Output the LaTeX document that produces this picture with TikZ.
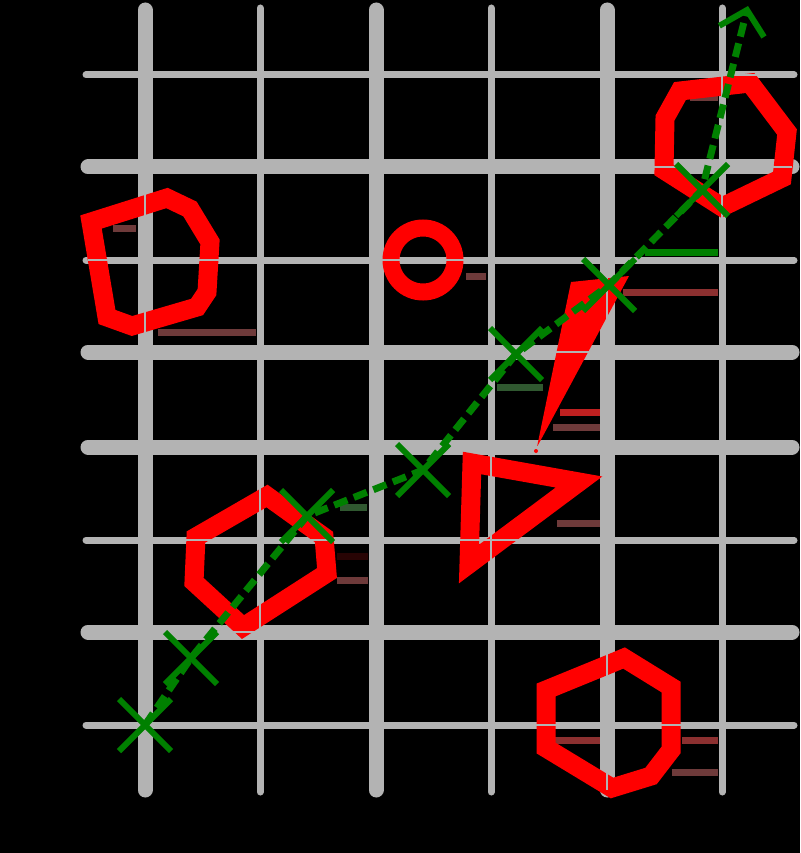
\documentclass[tikz,border=0pt]{standalone}
\usetikzlibrary{arrows.meta,shapes.misc}
\definecolor{gridgray}{RGB}{179,179,179}
\definecolor{trailgreen}{RGB}{0,128,0}
\definecolor{dimmaroon}{RGB}{110,58,58}
\definecolor{dimred}{RGB}{140,48,48}
\definecolor{hotred}{RGB}{190,32,32}
\definecolor{dimgreen}{RGB}{48,88,48}
\definecolor{darkred}{RGB}{40,4,4}
\begin{document}
\begin{tikzpicture}[x=1pt, y=-1pt,
  major/.style={draw=gridgray, line width=15pt, line cap=round},
  minor/.style={draw=gridgray, line width=7pt, line cap=round},
  seam/.style={draw=gridgray, line width=1.2pt},
  outline/.style={draw=red, line width=19pt, line join=miter},
  ghost/.style={draw=#1, line width=7pt},
  cross/.style={cross out, draw=trailgreen, line width=6pt, minimum size=46pt, inner sep=0pt},
  trail/.style={draw=trailgreen, line width=7pt, dash pattern=on 14pt off 7pt,
    -{Straight Barb[length=22pt,width=46pt,line width=6pt]}}]
  \fill[black] (0,0) rectangle (800,853);
  \useasboundingbox (0,0) rectangle (800,853);

  % Griglia
  \foreach \x in {145,376,607} \draw[major] (\x,10) -- (\x,790);
  \foreach \x in {260,491,722} \draw[minor] (\x,8) -- (\x,792);
  \foreach \y in {167,352,447,632} \draw[major] (88,\y) -- (792,\y);
  \foreach \y in {75,260,540,725} \draw[minor] (86,\y) -- (794,\y);

  % Tratti sbiaditi
  \draw[ghost=dimmaroon] (113,228) -- (136,228);
  \draw[ghost=dimmaroon] (158,332) -- (256,332);
  \draw[ghost=dimmaroon] (466,276) -- (486,276);
  \draw[ghost=dimmaroon] (690,98) -- (718,98);
  \draw[ghost=trailgreen] (645,252) -- (718,252);
  \draw[ghost=dimred] (623,292) -- (718,292);
  \draw[ghost=dimgreen] (497,387) -- (543,387);
  \draw[ghost=hotred] (560,412) -- (600,412);
  \draw[ghost=dimmaroon] (553,427) -- (600,427);
  \draw[ghost=dimmaroon] (557,523) -- (600,523);
  \draw[ghost=dimgreen] (340,507) -- (367,507);
  \draw[ghost=darkred] (337,556) -- (368,556);
  \draw[ghost=dimmaroon] (337,580) -- (368,580);
  \draw[ghost=dimred] (553,740) -- (600,740);
  \draw[ghost=dimred] (682,740) -- (718,740);
  \draw[ghost=dimmaroon] (672,772) -- (718,772);

  % Forme
  \draw[outline] (91,222) -- (167,198) -- (190,209) -- (210,242) -- (207,292)
    -- (197,307) -- (132,326) -- (107,317) -- cycle;
  \draw[outline] (680,91) -- (750,83) -- (787,132) -- (782,178) -- (722,207)
    -- (664,170) -- (665,118) -- cycle;
  \draw[outline, line width=17pt] (423,260) circle[radius=32];
  \draw[outline] (196,537) -- (267,496) -- (324,537) -- (327,573) -- (243,627)
    -- (194,582) -- cycle;
  \draw[outline] (472,463) -- (579,482) -- (469,564) -- cycle;
  \fill[red] (537,447) -- (571,282) -- (629,276) -- cycle;
  \fill[red] (536,451) circle[radius=2];
  \draw[outline] (546,690) -- (612,663) -- (624,658) -- (671,687) -- (671,750)
    -- (651,776) -- (612,788) -- (546,748) -- cycle;

  \foreach \x in {145,260,376,491,607,722} \draw[seam] (\x,10) -- (\x,790);
  \foreach \y in {75,167,260,352,447,540,632,725} \draw[seam] (88,\y) -- (792,\y);

  % Percorso
  \node[cross] (p1) at (145,725) {};
  \node[cross] (p2) at (191,658) {};
  \node[cross] (p3) at (307,516) {};
  \node[cross] (p4) at (423,470) {};
  \node[cross] (p5) at (516,354) {};
  \node[cross] (p6) at (609,285) {};
  \node[cross] (p7) at (702,190) {};
  \coordinate (tip) at (748,6);

  \draw[trail] (p1.center) -- (p2.center) -- (p3.center) -- (p4.center)
    -- (p5.center) -- (p6.center) -- (p7.center) -- (tip);
\end{tikzpicture}
\end{document}
